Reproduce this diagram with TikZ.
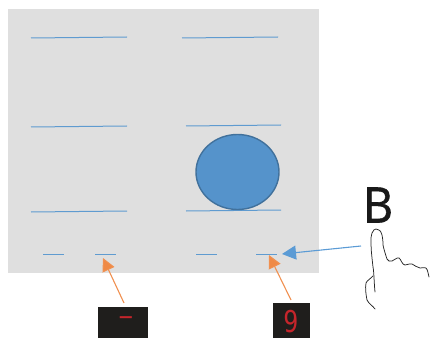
\documentclass[tikz,border=0pt]{standalone}
\usepackage{fontspec}
\setmainfont{Open Sans}
\newfontfamily\segfont{DejaVu Sans Mono}
\newfontfamily\keyfont[FakeBold=1.2]{Open Sans}
\usetikzlibrary{arrows.meta,shapes.geometric}
\definecolor{panel}{HTML}{DFDFDF}
\definecolor{linkblue}{HTML}{5F9BD0}
\definecolor{discblue}{HTML}{5593CB}
\definecolor{discedge}{HTML}{41719C}
\definecolor{pointer}{HTML}{ED7D31}
\definecolor{arrowblue}{HTML}{5B9BD5}
\definecolor{screen}{HTML}{1F1E1C}
\definecolor{segred}{HTML}{C5252B}
\tikzset{
  x=1pt,y=-1pt,
  zone/.style={draw=linkblue,line width=1pt},
  callout/.style={draw=pointer!85!white,line width=1.1pt,-{Triangle[length=13pt,width=13pt,fill=pointer!90!white]}},
  presscall/.style={draw=arrowblue,line width=1.1pt,-{Triangle[length=14pt,width=14pt,fill=arrowblue]}},
  display/.style={draw=none,fill=screen,inner sep=0pt,anchor=north west},
  digit/.style={text=segred,inner sep=0pt,font=\segfont\fontsize{25}{25}\selectfont},
  handline/.style={draw=black!85,line width=0.75pt,line cap=round,line join=round}
}
\begin{document}
\begin{tikzpicture}
\useasboundingbox (0,0) rectangle (430,339);
\fill[panel] (8,9) rectangle (319,273);
% zones
\coordinate (a1) at (31,38);  \coordinate (a2) at (127,37);
\coordinate (b1) at (182,38); \coordinate (b2) at (278,37);
\coordinate (c1) at (31,127); \coordinate (c2) at (127,126);
\coordinate (d1) at (186,126);\coordinate (d2) at (281,125);
\coordinate (e1) at (31,212); \coordinate (e2) at (127,211);
\coordinate (f1) at (186,211);\coordinate (f2) at (281,210);
\coordinate (g1) at (43,254.4); \coordinate (g2) at (64,254.4);
\coordinate (h1) at (95,254.4); \coordinate (h2) at (116,254.4);
\coordinate (i1) at (196,254.4);\coordinate (i2) at (217,254.4);
\coordinate (j1) at (256,254.4);\coordinate (j2) at (277,254.4);
\foreach \p in {a,b,c,d,e,f,g,h,i,j} \draw[zone] (\p1) -- (\p2);
% disc
\node[draw=discedge,fill=discblue,line width=1.4pt,ellipse,minimum width=83pt,minimum height=75pt,inner sep=0pt] (disc) at (237.5,172) {};
% displays
\node[display,minimum width=50pt,minimum height=31pt] (dash) at (98,307) {};
\node[display,minimum width=37pt,minimum height=35pt] (nine) at (273,303) {};
\node[digit,xscale=1.9] at (126,321) {-};
\node[digit,yscale=1.2] at (291,322) {9};
% callouts
\coordinate (dashtail) at (124,303); \coordinate (dashtip) at (103,258);
\coordinate (ninetail) at (291,300); \coordinate (ninetip) at (269,255);
\coordinate (presstail) at (361,246); \coordinate (presstip) at (282,254);
\draw[callout] (dashtail) -- (dashtip);
\draw[callout] (ninetail) -- (ninetip);
\draw[presscall] (presstail) -- (presstip);
% label and hand
\node[inner sep=0pt,text=black!90,font=\keyfont\fontsize{49}{49}\selectfont,xscale=0.95] (blabel) at (378,205) {B};
\draw[handline] (375,292) .. controls (374,282) and (374,272) .. (373,267)
  .. controls (372,258) and (371,250) .. (371,243)
  .. controls (371,238) and (371,235) .. (372,233)
  .. controls (373,230) and (375,229) .. (376,229)
  .. controls (380,230) and (382,232) .. (382,235)
  .. controls (383,240) and (383,243) .. (383,245)
  .. controls (384,250) and (386,256) .. (387,259)
  .. controls (388,262) and (390,261) .. (392,261)
  .. controls (395,260) and (397,257) .. (399,258)
  .. controls (401,259) and (402,265) .. (405,265)
  .. controls (408,265) and (410,263) .. (412,264)
  .. controls (415,265) and (417,268) .. (420,268)
  .. controls (423,268) and (425,267) .. (426,268)
  .. controls (428,270) and (428,274) .. (429,277);
\draw[handline] (373,276) .. controls (371,279) and (367,280) .. (366,283)
  .. controls (365,288) and (366,295) .. (367,300)
  .. controls (369,304) and (373,306) .. (375,309);
\end{tikzpicture}
\end{document}
